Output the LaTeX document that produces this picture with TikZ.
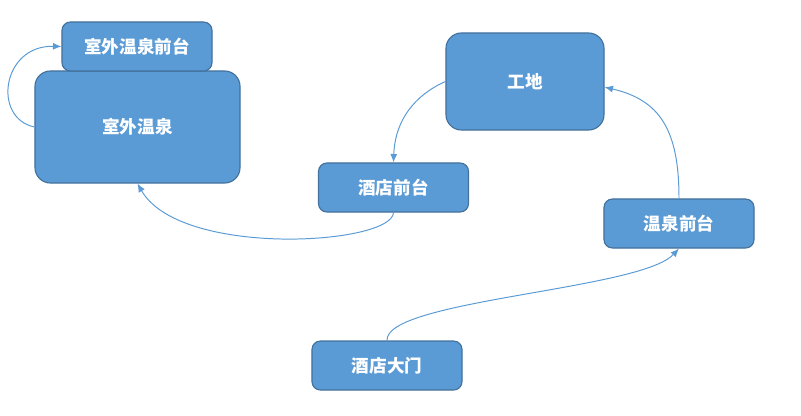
\documentclass[tikz,border=0pt]{standalone}
\usepackage{fontspec}
\usepackage{xcolor}
\usepackage{tikz}
\usetikzlibrary{arrows.meta,positioning}
\newfontfamily\cjk{Noto Sans CJK SC}
\definecolor{boxblue}{HTML}{5B9BD5}
\definecolor{boxedge}{HTML}{41719C}
\definecolor{linkblue}{HTML}{5B9BD5}
\tikzset{
  spotbox/.style={
    draw=boxedge,
    line width=0.8pt,
    fill=boxblue,
    rounded corners=6pt,
    minimum width=3.75cm,
    minimum height=1.225cm,
    align=center,
    text=white,
    font=\cjk\bfseries\fontsize{12.5}{15}\selectfont
  },
  bigspot/.style={spotbox, rounded corners=11pt},
  flowarrow/.style={-{Latex[length=6pt,width=5pt]}, line width=0.7pt, draw=linkblue}
}

\begin{document}
\begin{tikzpicture}[x=0.025cm, y=-0.025cm]
  \useasboundingbox (0,0) rectangle (801,415);

  \node[bigspot, minimum width=5.125cm, minimum height=2.8cm] (pool) at (137.5,127) {室外温泉};
  \node[spotbox] (pooldesk) at (137,46.5) {室外温泉前台};
  \node[bigspot, minimum width=3.95cm, minimum height=2.425cm] (site) at (525,81.5) {工地};
  \node[spotbox] (hoteldesk) at (393.5,187.5) {酒店前台};
  \node[spotbox] (springdesk) at (679,223.5) {温泉前台};
  \node[spotbox] (gate) at (387,365.5) {酒店大门};

  \draw[flowarrow] (pool.west) .. controls (-8,118) and (2,45) .. (pooldesk.west);
  \draw[flowarrow] (site.west) .. controls (415,95) and (395,120) .. (hoteldesk.north);
  \draw[flowarrow] (hoteldesk.south) .. controls (392,245) and (180,258) .. (pool.south);
  \draw[flowarrow] (gate.north) .. controls (385,300) and (640,290) .. (springdesk.south);
  \draw[flowarrow] (springdesk.north) .. controls (679,130) and (660,100) .. ([yshift=-4pt]site.east);
\end{tikzpicture}
\end{document}
